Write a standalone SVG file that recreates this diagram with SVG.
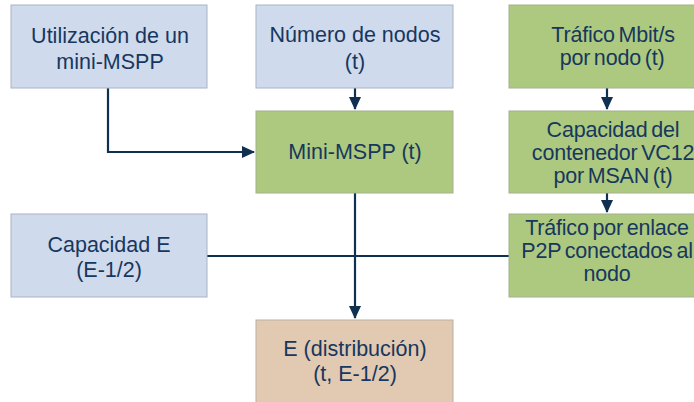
<svg xmlns="http://www.w3.org/2000/svg" width="694" height="402" viewBox="0 0 694 402">
<defs>
<style>
.b{fill:#CFDAEC;stroke:#A9B4C2;stroke-width:1}
.g{fill:#ADC97F;stroke:#A4B08E;stroke-width:1}
.e{fill:#E2C9B2;stroke:#B9AFA6;stroke-width:1}
text{font-family:"Liberation Sans",Arial,sans-serif;font-size:21.5px;fill:#17375E;text-anchor:middle}
.r{font-size:21.5px;letter-spacing:-0.2px;word-spacing:-2px}
.c{fill:none;stroke:#0F3050;stroke-width:2.2}
</style>
<marker id="a2" markerWidth="14" markerHeight="12" refX="12" refY="6" orient="auto" markerUnits="userSpaceOnUse" viewBox="0 0 14 12">
<path d="M0,0 L13,6 L0,12 Z" fill="#0F3050"/>
</marker>
</defs>
<g id="connectors">
<path class="c" d="M108,88 V152 H254" marker-end="url(#a2)"/>
<path class="c" d="M355,88 V109" marker-end="url(#a2)"/>
<path class="c" d="M355,193 V318" marker-end="url(#a2)"/>
<path class="c" d="M207,256 H509"/>
<path class="c" d="M607,88 V109" marker-end="url(#a2)"/>
<path class="c" d="M607,193 V212" marker-end="url(#a2)"/>
</g>
<g id="n1"><rect class="b" x="11" y="5" width="196" height="83"/><text x="110" y="43">Utilización  de un</text><text x="110" y="69">mini-MSPP</text></g>
<g id="n2"><rect class="b" x="256" y="5" width="197" height="83"/><text x="355" y="42">Número de nodos</text><text x="355" y="69">(t)</text></g>
<g id="n3"><rect class="g" x="509" y="5" width="197" height="83"/><text class="r" x="613" y="42">Tráfico Mbit/s</text><text class="r" x="612" y="65">por nodo (t)</text></g>
<g id="n4"><rect class="g" x="256" y="111" width="197" height="82"/><text x="355" y="159">Mini-MSPP (t)</text></g>
<g id="n5"><rect class="g" x="509" y="111" width="197" height="82"/><text class="r" x="613" y="137">Capacidad del</text><text class="r" x="613" y="160">contenedor VC12</text><text class="r" x="613" y="183">por MSAN  (t)</text></g>
<g id="n6"><rect class="b" x="11" y="214" width="196" height="83"/><text x="109" y="252">Capacidad E</text><text x="109" y="277">(E-1/2)</text></g>
<g id="n7"><rect class="g" x="509" y="214" width="197" height="83"/><text class="r" x="607" y="235">Tráfico por enlace</text><text class="r" x="607" y="258">P2P conectados al</text><text class="r" x="607" y="281">nodo</text></g>
<g id="n8"><rect class="e" x="256" y="320" width="197" height="90"/><text x="355" y="356">E (distribución)</text><text x="355" y="381">(t, E-1/2)</text></g>
</svg>
